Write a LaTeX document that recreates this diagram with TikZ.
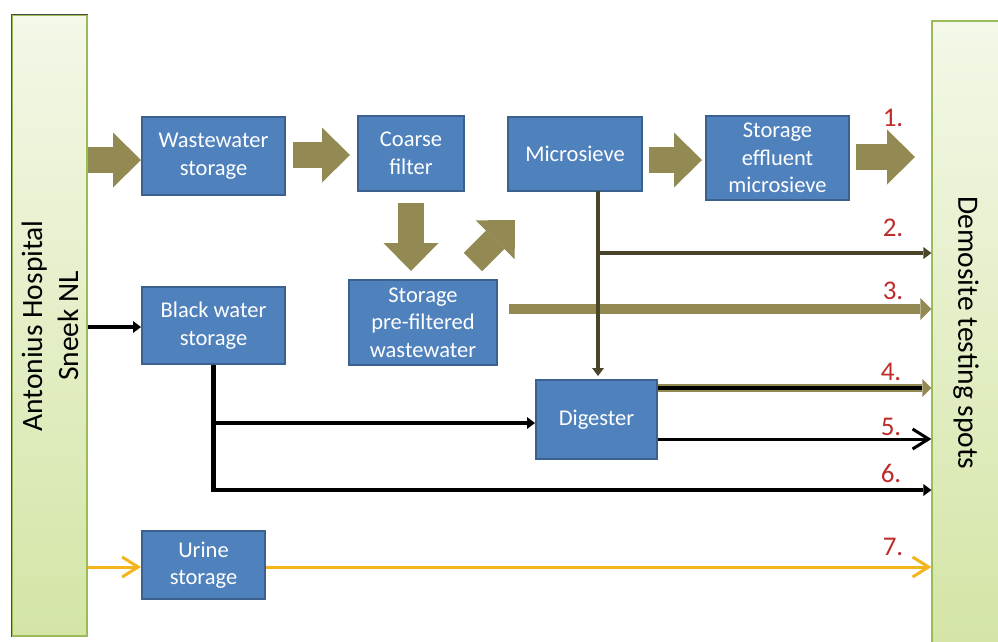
\documentclass[tikz,border=0pt]{standalone}
\usepackage{fontspec}
\setmainfont{Carlito}
\usetikzlibrary{arrows.meta}
\definecolor{boxblue}{HTML}{4F81BD}
\definecolor{boxedge}{HTML}{3A6190}
\definecolor{flowolive}{HTML}{938953}
\definecolor{flowdark}{HTML}{4A4428}
\definecolor{barTop}{HTML}{F3F8E8}
\definecolor{barBot}{HTML}{D4E5A6}
\definecolor{barEdge}{HTML}{9BBB59}
\definecolor{numred}{HTML}{BE2B2B}
\definecolor{urineyellow}{HTML}{F4B41C}
\begin{document}
\begin{tikzpicture}[x=1pt,y=-1pt,
  proc/.style 2 args={draw=boxedge, line width=2pt, fill=boxblue, text=white,
    align=center, font=\fontsize{22.5}{27.5}\selectfont,
    minimum width=#1pt, minimum height=#2pt, inner sep=0pt},
  bar/.style={draw=barEdge, line width=1.2pt, top color=barTop, bottom color=barBot,
    inner sep=0pt},
  barlabel/.style={align=center, font=\fontsize{29.5}{36}\selectfont, text=black},
  fat/.style={draw=flowolive, line width=26pt,
    -{Triangle[length=28pt,width=55pt,line width=0pt]}},
  thinblk/.style={draw=black, line width=4.5pt,
    -{Triangle[length=8pt,width=12pt,line width=0pt]}},
  thindark/.style={draw=flowdark, line width=4.5pt,
    -{Triangle[length=8pt,width=12pt,line width=0pt]}},
  chevron/.style={line width=3pt, -{Straight Barb[length=16pt,width=20pt]}},
  num/.style={text=numred, font=\fontsize{27}{30}\selectfont, inner sep=0pt}
]
\useasboundingbox (0,0) rectangle (998,641);
\fill[white] (0,0) rectangle (998,641);

% side bars
\node[bar, minimum width=75pt, minimum height=621pt] (hosp) at (49.5,325.5) {};
\draw[line width=1.5pt, black!70] (hosp.south west) -- (hosp.north west) -- (hosp.north east);
\node[bar, minimum width=70pt, minimum height=622pt] (demo) at (967,332) {};
\node[barlabel, rotate=90] (hosplabel) at (50,326) {Antonius Hospital\\Sneek NL};
\node[barlabel, rotate=-90] (demolabel) at (966,333) {Demosite testing spots};

% process boxes
\node[proc={143}{78}] (ww) at (213.5,156) {Wastewater\\storage};
\node[proc={106}{75}] (coarse) at (411,153.5) {Coarse\\filter};
\node[proc={134}{74}] (micro) at (575,154) {Microsieve};
\node[proc={143}{84}] (eff) at (777.5,158) {Storage\\effluent\\microsieve};
\node[proc={148}{85}] (pre) at (423,322.5) {Storage\\pre-filtered\\wastewater};
\node[proc={143}{77}] (black) at (213.5,325.5) {Black water\\storage};
\node[proc={121}{79}] (dig) at (596.5,419.5) {Digester};
\node[proc={123}{68}] (urine) at (203.5,565) {Urine\\storage};

% wide flow arrows
\draw[fat] (hosp.east |- 0,160) -- (ww.west |- 0,160);
\draw[fat, shorten <=7pt, shorten >=7pt] (ww.east |- 0,155) -- (coarse.west |- 0,155);
\draw[fat, shorten <=11pt, shorten >=8pt] (coarse.south) -- (coarse.south |- pre.north);
\coordinate (diagS) at (473,262);
\coordinate (diagE) at (515,220);
\draw[fat] (diagS) -- (diagE);
\draw[fat, shorten <=6pt, shorten >=3pt] (micro.east |- 0,160) -- (eff.west |- 0,160);
\coordinate (out1) at (915,157);
\draw[fat, shorten <=6pt] (eff.east |- 0,157) -- (out1);

% stream 3: pre-filtered wastewater
\draw[draw=flowolive, line width=10pt, shorten <=11pt,
  -{Triangle[length=11pt,width=22pt,line width=0pt]}] (pre.east |- 0,309) -- (demo.west |- 0,309);

% stream 2 and sludge to digester
\coordinate (ms) at (598,191);
\coordinate (j2) at (598,253);
\draw[thindark, shorten >=3pt] (ms) -- (ms |- dig.north);
\draw[thindark] (j2) -- (demo.west |- j2);

% stream 4: digestate
\draw[draw=flowolive, line width=8pt,
  -{Triangle[length=9pt,width=18pt,line width=0pt]}] (dig.east |- 0,388) -- (demo.west |- 0,388);
\draw[black, line width=3.5pt, shorten >=9pt] (dig.east |- 0,388) -- (demo.west |- 0,388);

% stream 5
\draw[chevron, black] (dig.east |- 0,439) -- (demo.west |- 0,439);

% black water lines
\draw[thinblk] (hosp.east |- 0,327) -- (black.west |- 0,327);
\coordinate (j6) at (black.south |- 0,423);
\draw[thinblk] (black.south) |- (demo.west |- 0,490);
\draw[thinblk] (j6) -- (dig.west |- j6);

% urine lines
\draw[chevron, urineyellow] (hosp.east |- 0,567) -- (urine.west |- 0,567);
\draw[chevron, urineyellow] (urine.east |- 0,567) -- (demo.west |- 0,567);

% stream numbers
\node[num] (n1) at (893,118) {1.};
\node[num] (n2) at (893,228) {2.};
\node[num] (n3) at (893,291) {3.};
\node[num] (n4) at (891,372) {4.};
\node[num] (n5) at (891,427) {5.};
\node[num] (n6) at (891,473) {6.};
\node[num] (n7) at (893,547) {7.};
\end{tikzpicture}
\end{document}
